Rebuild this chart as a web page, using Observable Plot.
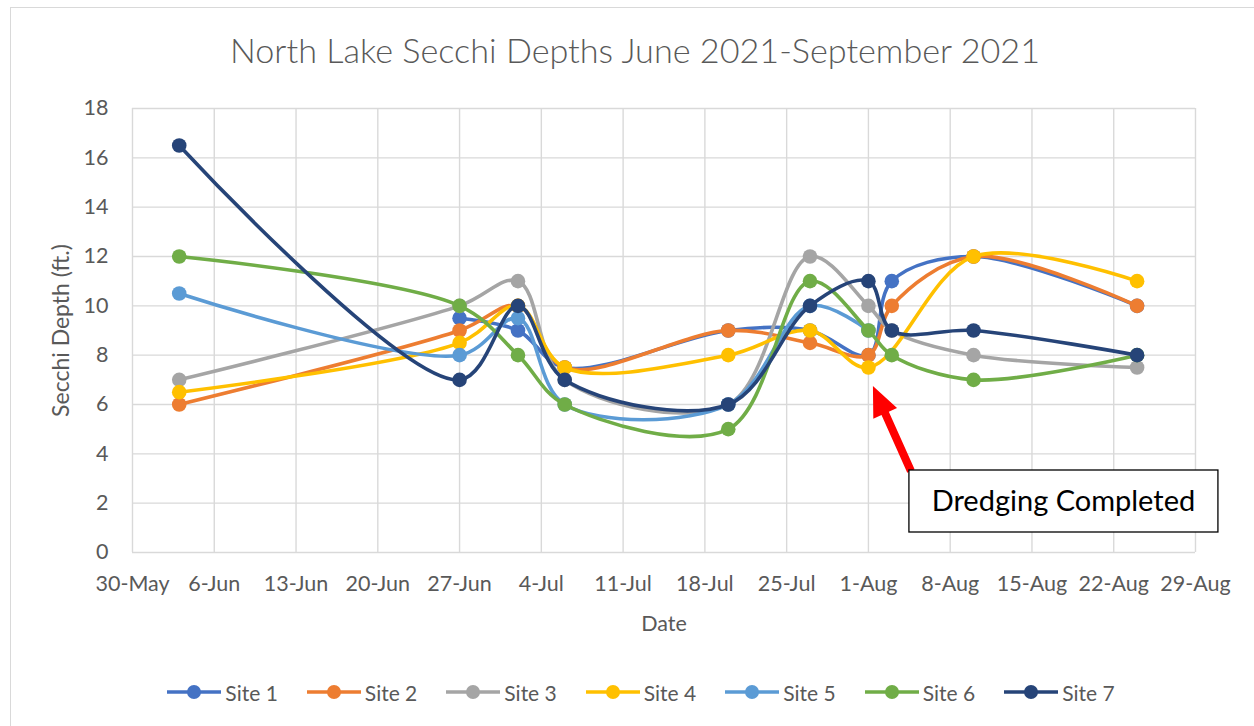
<!DOCTYPE html>
<html><head><meta charset="utf-8">
<script src="https://cdn.jsdelivr.net/npm/d3@7"></script>
<script src="https://cdn.jsdelivr.net/npm/@observablehq/plot@0.6"></script>
<style>
html,body{margin:0;padding:0;background:#fff;overflow:hidden;}
#wrap{position:relative;width:1254px;height:726px;overflow:hidden;font-family:Lato,"Open Sans",sans-serif;}
#frame{position:absolute;left:10px;top:7px;width:1280px;height:760px;border:1.5px solid #d9d9d9;box-sizing:border-box;}
#chart{position:absolute;left:0;top:0;}
#overlay{position:absolute;left:0;top:0;pointer-events:none;}
#legend{position:absolute;left:0;top:680px;width:1281px;height:24px;display:flex;justify-content:center;align-items:center;gap:28px;color:#595959;font-size:21px;}
.item{display:flex;align-items:center;gap:3px;}
</style></head>
<body>
<div id="wrap">
  <div id="frame"></div>
  <div id="chart"></div>
  <svg id="overlay" width="1254" height="726"></svg>
  <div id="legend"></div>
</div>
<script>
// ---- data ----
const dates = ["2021-06-03","2021-06-27","2021-07-02","2021-07-06","2021-07-20","2021-07-27","2021-08-01","2021-08-03","2021-08-10","2021-08-24"];
const site1 = [null, 9.5, 9, 7.5, 9, 9, 8, 11, 12, 10];
const site2 = [6, 9, 10, 7.5, 9, 8.5, 8, 10, 12, 10];
const site3 = [7, 10, 11, 7, 6, 12, 10, 9, 8, 7.5];
const site4 = [6.5, 8.5, 10, 7.5, 8, 9, 7.5, null, 12, 11];
const site5 = [10.5, 8, 9.5, 6, 6, 10, 9, null, null, null];
const site6 = [12, 10, 8, 6, 5, 11, 9, 8, 7, 8];
const site7 = [16.5, 7, 10, 7, 6, 10, 11, 9, 9, 8];
const siteNames = ["Site 1","Site 2","Site 3","Site 4","Site 5","Site 6","Site 7"];
const siteColors = ["#4472C4","#ED7D31","#A5A5A5","#FFC000","#5B9BD5","#70AD47","#264478"];
const xTickDates = ["2021-05-30","2021-06-06","2021-06-13","2021-06-20","2021-06-27","2021-07-04","2021-07-11","2021-07-18","2021-07-25","2021-08-01","2021-08-08","2021-08-15","2021-08-22","2021-08-29"];
const yTicks = [0,2,4,6,8,10,12,14,16,18];
const titleText = "North Lake Secchi Depths June 2021-September 2021";
const annotationText = "Dredging Completed";
const annotationDate = "2021-08-01";
const annotationValue = 7.5;

// ---- build ----
const seriesValues = [site1, site2, site3, site4, site5, site6, site7];
const series = seriesValues.map((vals, i) =>
  dates.map((d, j) => ({date: new Date(d), value: vals[j], site: siteNames[i]})).filter(r => r.value != null)
);
const xTicks = xTickDates.map(d => new Date(d));
const fmt = d3.utcFormat("%-d-%b");
const grid = {stroke: "#d9d9d9", strokeOpacity: 1, strokeWidth: 1.4};

const marks = [
  Plot.gridX(xTicks, grid),
  Plot.gridY(yTicks, grid),
  Plot.axisX(xTicks, {tickFormat: fmt, tickSize: 0, tickPadding: 23, label: "Date", labelAnchor: "center", labelArrow: "none", labelOffset: 78, fontSize: 21.5}),
  Plot.axisY(yTicks, {tickSize: 0, tickPadding: 24, label: null, fontSize: 21.5}),
  Plot.axisY({label: "Secchi Depth (ft.)", labelAnchor: "center", labelArrow: "none", labelOffset: 80, fontSize: 23, ticks: [], tickSize: 0})
];
series.forEach((rows, i) => {
  marks.push(Plot.line(rows, {x: "date", y: "value", stroke: siteColors[i], strokeWidth: 3.6, curve: "catmull-rom", strokeLinecap: "round", strokeLinejoin: "round"}));
  marks.push(Plot.dot(rows, {x: "date", y: "value", r: 7.3, fill: siteColors[i], stroke: "none"}));
});

const chart = Plot.plot({
  width: 1254, height: 650,
  marginLeft: 132, marginRight: 59, marginTop: 108, marginBottom: 98,
  style: {fontFamily: "Lato, 'Open Sans', sans-serif", fontSize: "21px", color: "#595959", background: "transparent", overflow: "visible"},
  x: {type: "utc", domain: [new Date("2021-05-30"), new Date("2021-08-29")]},
  y: {domain: [0, 18]},
  marks
});
document.getElementById("chart").appendChild(chart);

// ---- overlay: title + annotation ----
const svg = d3.select("#overlay");
svg.append("text").attr("x", 635).attr("y", 63).attr("text-anchor", "middle")
  .attr("font-size", 34.2).attr("font-weight", 300).attr("fill", "#595959")
  .attr("font-family", "Lato, 'Open Sans', sans-serif").text(titleText);

const xs = chart.scale("x"), ys = chart.scale("y");
const px = xs.apply(new Date(annotationDate)), py = ys.apply(annotationValue);
const tip = [px + 5, py + 19], tail = [px + 43, py + 104];
const dx = tip[0] - tail[0], dy = tip[1] - tail[1], len = Math.hypot(dx, dy);
const ux = dx / len, uy = dy / len, nx = -uy, ny = ux;
const headLen = 30, shaftW = 4, headW = 13;
const bx = tip[0] - ux * headLen, by = tip[1] - uy * headLen;
const pts = [
  [tail[0] + nx * shaftW, tail[1] + ny * shaftW],
  [bx + nx * shaftW, by + ny * shaftW],
  [bx + nx * headW, by + ny * headW],
  tip,
  [bx - nx * headW, by - ny * headW],
  [bx - nx * shaftW, by - ny * shaftW],
  [tail[0] - nx * shaftW, tail[1] - ny * shaftW]
];
svg.append("polygon").attr("points", pts.map(p => p.join(",")).join(" ")).attr("fill", "#FF0000");
const boxX = px + 41, boxY = py + 103, boxW = 309, boxH = 62;
svg.append("rect").attr("x", boxX).attr("y", boxY).attr("width", boxW).attr("height", boxH)
  .attr("fill", "#fff").attr("stroke", "#000").attr("stroke-width", 1.3);
svg.append("text").attr("x", boxX + boxW / 2).attr("y", boxY + boxH / 2 + 10).attr("text-anchor", "middle")
  .attr("font-size", 29).attr("fill", "#000").attr("font-family", "Lato, 'Open Sans', sans-serif").text(annotationText);

// ---- legend ----
const legend = d3.select("#legend");
siteNames.forEach((name, i) => {
  const it = legend.append("div").attr("class", "item");
  const s = it.append("svg").attr("width", 56).attr("height", 18);
  s.append("line").attr("x1", 1).attr("x2", 55).attr("y1", 9).attr("y2", 9).attr("stroke", siteColors[i]).attr("stroke-width", 3.6);
  s.append("circle").attr("cx", 28).attr("cy", 9).attr("r", 7).attr("fill", siteColors[i]);
  it.append("span").text(name);
});
</script>
</body></html>
